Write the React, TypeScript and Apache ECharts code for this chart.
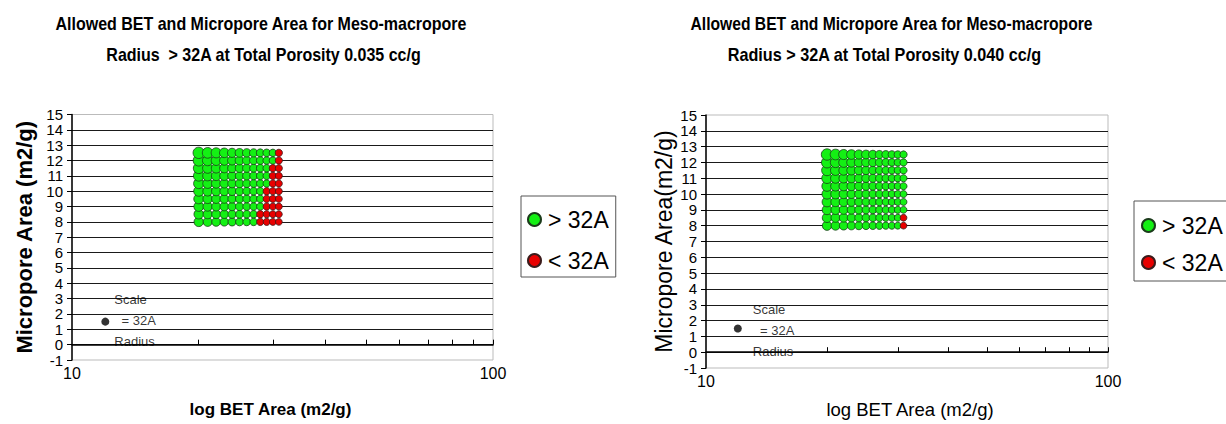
import React, { useEffect, useRef } from "react";
import * as echarts from "echarts";

// BET area columns (m2/g, log axis) and micropore area rows (m2/g)
const betArea = [20, 21, 22, 23, 24, 25, 26, 27, 28, 29, 30, 31];
const microArea = [8, 8.5, 9, 9.5, 10, 10.5, 11, 11.5, 12, 12.5];

// Meso-macropore radius (Angstrom), one row per micropore area value
const radius035 = [
  [51.7, 47.7, 44.3, 41.4, 38.8, 36.5, 34.5, 32.7, 31.0, 29.6, 28.2, 27.0],
  [53.5, 49.2, 45.6, 42.4, 39.7, 37.3, 35.2, 33.3, 31.6, 30.0, 28.6, 27.3],
  [55.5, 50.8, 46.9, 43.6, 40.7, 38.1, 35.9, 33.9, 32.1, 30.5, 29.0, 27.7],
  [57.6, 52.6, 48.4, 44.8, 41.7, 39.0, 36.6, 34.5, 32.7, 31.0, 29.5, 28.1],
  [59.9, 54.5, 49.9, 46.1, 42.8, 40.0, 37.5, 35.3, 33.3, 31.5, 30.0, 28.5],
  [62.5, 56.6, 51.7, 47.5, 44.0, 41.0, 38.3, 36.0, 33.9, 32.1, 30.5, 29.0],
  [65.4, 58.9, 53.5, 49.1, 45.3, 42.0, 39.2, 36.8, 34.6, 32.7, 31.0, 29.4],
  [68.6, 61.4, 55.6, 50.7, 46.7, 43.2, 40.2, 37.6, 35.4, 33.3, 31.5, 29.9],
  [72.3, 64.2, 57.8, 52.5, 48.2, 44.5, 41.3, 38.5, 36.1, 34.0, 32.1, 30.4],
  [76.3, 67.4, 60.3, 54.5, 49.8, 45.8, 42.4, 39.5, 36.9, 34.7, 32.7, 31.0],
];

const radius040 = [
  [60.1, 55.4, 51.5, 48.0, 45.0, 42.4, 40.0, 37.9, 36.0, 34.3, 32.8, 31.3],
  [62.2, 57.2, 53.0, 49.3, 46.1, 43.4, 40.9, 38.7, 36.7, 34.9, 33.3, 31.8],
  [64.5, 59.2, 54.6, 50.7, 47.3, 44.4, 41.8, 39.4, 37.4, 35.5, 33.8, 32.3],
  [67.1, 61.3, 56.4, 52.2, 48.6, 45.5, 42.7, 40.3, 38.1, 36.1, 34.4, 32.8],
  [69.9, 63.6, 58.3, 53.8, 50.0, 46.6, 43.7, 41.1, 38.9, 36.8, 35.0, 33.3],
  [73.1, 66.1, 60.3, 55.5, 51.4, 47.9, 44.8, 42.1, 39.7, 37.5, 35.6, 33.9],
  [76.5, 68.9, 62.6, 57.4, 53.0, 49.2, 45.9, 43.0, 40.5, 38.3, 36.2, 34.4],
  [80.4, 71.9, 65.1, 59.4, 54.7, 50.6, 47.1, 44.1, 41.4, 39.0, 36.9, 35.0],
  [84.8, 75.3, 67.8, 61.6, 56.5, 52.2, 48.4, 45.2, 42.4, 39.9, 37.7, 35.7],
  [89.7, 79.1, 70.8, 64.1, 58.5, 53.8, 49.8, 46.4, 43.4, 40.8, 38.4, 36.4],
];

const thresholdRadius = 32;
const scalePoint = [12, 1.5, 32];
const xMinorTicks = [20, 30, 40, 50, 60, 70, 80, 90, 100];
const yLimits = [-1, 15];
const legendNames = ["> 32A", "< 32A"];
const titleLine1 = "Allowed BET and Micropore Area for Meso-macropore";
const titleLine2Left = "Radius  > 32A at Total Porosity 0.035 cc/g";
const titleLine2Right = "Radius > 32A at Total Porosity 0.040 cc/g";

const FONT = '"Liberation Sans", Arial, Helvetica, sans-serif';
const GREEN = "#14f014";
const RED = "#e80000";

function splitPoints(radius: number[][]) {
  const big: number[][] = [];
  const small: number[][] = [];
  microArea.forEach((m, i) => {
    betArea.forEach((b, j) => {
      const r = radius[i][j];
      (r >= thresholdRadius ? big : small).push([b, m, r]);
    });
  });
  return { big, small };
}

function chartParts(
  idx: number,
  radius: number[][],
  k: number,
  opts: {
    yNameBold: boolean;
    yNameSize: number;
    yNameGap: number;
    xNameBold: boolean;
    xNameSize: number;
    xNameGap: number;
    xNamePad: number[];
    labelMargin: number;
    scaleFont: number;
    scaleDist: number;
    scaleOffsetY: number;
    yName: string;
  }
) {
  const { big, small } = splitPoints(radius);
  const size = (v: number[]) => k * Math.sqrt(v[2]);
  const xAxes = [
    {
      gridIndex: idx,
      type: "log",
      logBase: 10,
      min: 10,
      max: 100,
      position: "top",
      axisLine: { show: true, onZero: true, lineStyle: { color: "#000", width: 1.5 } },
      axisTick: {
        show: true,
        inside: false,
        length: 5,
        customValues: xMinorTicks,
        lineStyle: { color: "#000", width: 1 },
      },
      axisLabel: { show: false },
      splitLine: { show: false },
    },
    {
      gridIndex: idx,
      type: "log",
      logBase: 10,
      min: 10,
      max: 100,
      position: "bottom",
      axisLine: { show: false, onZero: false },
      axisTick: { show: false },
      axisLabel: { show: true, color: "#000", fontSize: 16, fontFamily: FONT, margin: opts.labelMargin },
      splitLine: { show: false },
      name: "log BET Area (m2/g)",
      nameLocation: "middle",
      nameGap: opts.xNameGap,
      nameTextStyle: {
        color: "#000",
        fontSize: opts.xNameSize,
        fontWeight: opts.xNameBold ? "bold" : "normal",
        fontFamily: FONT,
        padding: opts.xNamePad,
      },
    },
  ];
  const yAxis = {
    gridIndex: idx,
    type: "value",
    min: yLimits[0],
    max: yLimits[1],
    interval: 1,
    axisLine: { show: true, onZero: false, lineStyle: { color: "#000", width: 1.5 } },
    axisTick: { show: true, inside: false, length: 5, lineStyle: { color: "#000" } },
    axisLabel: { color: "#000", fontSize: 15, fontFamily: FONT, margin: 9 },
    splitLine: {
      show: true,
      showMinLine: false,
      showMaxLine: false,
      lineStyle: { color: "#1a1a1a", width: 1.2 },
    },
    name: opts.yName,
    nameLocation: "middle",
    nameGap: opts.yNameGap,
    nameTextStyle: {
      color: "#000",
      fontSize: opts.yNameSize,
      fontWeight: opts.yNameBold ? "bold" : "normal",
      fontFamily: FONT,
    },
  };
  const xi = idx * 2;
  const series = [
    {
      type: "scatter",
      name: legendNames[0],
      xAxisIndex: xi,
      yAxisIndex: idx,
      data: big,
      symbol: "circle",
      symbolSize: size,
      itemStyle: { color: GREEN, borderColor: "#1b3b1b", borderWidth: 0.8, opacity: 1 },
      z: 3,
    },
    {
      type: "scatter",
      name: legendNames[1],
      xAxisIndex: xi,
      yAxisIndex: idx,
      data: small,
      symbol: "circle",
      symbolSize: size,
      itemStyle: { color: RED, borderColor: "#3b1b1b", borderWidth: 0.8, opacity: 1 },
      z: 3,
    },
    {
      type: "scatter",
      name: "Scale",
      xAxisIndex: xi,
      yAxisIndex: idx,
      data: [scalePoint],
      symbol: "circle",
      symbolSize: 8,
      itemStyle: { color: "#000" },
      label: {
        show: true,
        position: "right",
        distance: opts.scaleDist,
        offset: [0, opts.scaleOffsetY],
        formatter: "Scale\n  = 32A\nRadius",
        fontSize: opts.scaleFont,
        lineHeight: 21,
        color: "#000",
        fontFamily: FONT,
        align: "left",
      },
      z: 2,
    },
  ];
  return { xAxes, yAxis, series };
}

function titleText(text: string, x: number, y: number, sx: number) {
  return {
    type: "text",
    x,
    y,
    scaleX: sx,
    style: {
      text,
      fontSize: 18,
      fontWeight: "bold",
      fontFamily: FONT,
      fill: "#000",
      align: "center",
      verticalAlign: "middle",
    },
  };
}

export default function App() {
  const ref = useRef<HTMLDivElement>(null);
  useEffect(() => {
    if (!ref.current) return;
    const chart = echarts.init(ref.current, undefined, { renderer: "svg" });
    const left = chartParts(0, radius035, 1.3, {
      yName: "Micropore Area (m2/g)",
      yNameBold: true,
      yNameSize: 22,
      yNameGap: 37,
      xNameBold: true,
      xNameSize: 17,
      xNameGap: 41,
      xNamePad: [0, 24, 0, 0],
      labelMargin: 5,
      scaleFont: 13,
      scaleDist: 5,
      scaleOffsetY: -1,
    });
    const right = chartParts(1, radius040, 1.2, {
      yName: "Micropore Area(m2/g)",
      yNameBold: false,
      yNameSize: 23,
      yNameGap: 31,
      xNameBold: false,
      xNameSize: 18.5,
      xNameGap: 32,
      xNamePad: [0, 0, 0, 6],
      labelMargin: 5,
      scaleFont: 13,
      scaleDist: 11,
      scaleOffsetY: 2,
    });
    const legendCommon = {
      orient: "vertical",
      icon: "circle",
      itemWidth: 13,
      itemHeight: 14,
      borderColor: "#555",
      borderWidth: 1,
      data: legendNames,
      selectedMode: false,
      textStyle: { color: "#000", fontSize: 23, fontFamily: FONT, padding: [0, 0, 0, 2] },
    };
    chart.setOption({
      animation: false,
      backgroundColor: "#fff",
      graphic: [
        titleText(titleLine1, 261, 24, 0.89),
        titleText(titleLine2Left, 263.5, 55, 0.89),
        titleText(titleLine1, 891.5, 24, 0.87),
        titleText(titleLine2Right, 884.5, 55, 0.9),
      ],
      legend: [
        { ...legendCommon, left: 521, top: 196, padding: [12, 7, 5, 6], itemGap: 18 },
        { ...legendCommon, left: 1134, top: 201, padding: [13, 20, 7, 7], itemGap: 14 },
      ],
      grid: [
        { left: 72, top: 114.5, width: 421, height: 245.5, show: true, borderColor: "#bbb", borderWidth: 1, backgroundColor: "#fff" },
        { left: 706, top: 115, width: 402, height: 253.5, show: true, borderColor: "#bbb", borderWidth: 1, backgroundColor: "#fff" },
      ],
      xAxis: [...left.xAxes, ...right.xAxes],
      yAxis: [left.yAxis, right.yAxis],
      series: [...left.series, ...right.series],
    });
    return () => chart.dispose();
  }, []);
  return (
    <div
      ref={ref}
      style={{ position: "fixed", left: 0, top: 0, width: 1226, height: 424, background: "#fff" }}
    />
  );
}
